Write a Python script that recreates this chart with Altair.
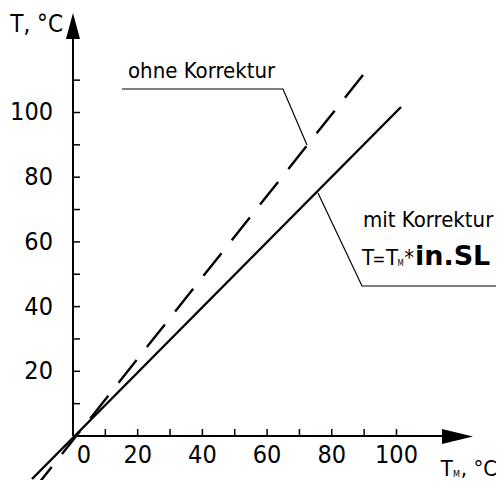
import altair as alt
import pandas as pd

# ---- data ----
solid_x = [-12.67, 101.4]
solid_y = [-13.29, 101.7]
dashed_x = [89.64, -11.75]
dashed_y = [111.59, -16.07]

x_tick_values = [10, 20, 30, 40, 50, 60, 70, 80, 90, 100]
y_tick_values = [10, 20, 30, 40, 50, 60, 70, 80, 90, 100, 110]
x_label_values = [20, 40, 60, 80, 100]
zero_label = ["0"]
y_label_values = [20, 40, 60, 80, 100]

ohne_leader_x = [15.15, 64.91, 72.33]
ohne_leader_y = [107.26, 107.26, 89.95]
mit_leader_x = [75.73, 89.34, 130.76]
mit_leader_y = [75.12, 46.37, 46.37]

XD = [-20.09, 130.76]
YD = [-13.60, 132.30]
FONT = "DejaVu Sans Condensed, DejaVu Sans, sans-serif"

xs = alt.Scale(domain=XD, nice=False, zero=False)
ys = alt.Scale(domain=YD, nice=False, zero=False)


def X(f="x"):
    return alt.X(f"{f}:Q", scale=xs, axis=None)


def Y(f="y"):
    return alt.Y(f"{f}:Q", scale=ys, axis=None)


def label(x, y, t, size, align="left", baseline="alphabetic", font=FONT, weight="normal"):
    return alt.Chart(pd.DataFrame({"x": [x], "y": [y], "t": [t]})).mark_text(
        font=font, fontSize=size, fontWeight=weight, align=align, baseline=baseline, color="black"
    ).encode(x=X(), y=Y(), text="t:N")


# main lines
solid = alt.Chart(pd.DataFrame({"x": solid_x, "y": solid_y, "o": [0, 1]})).mark_line(
    color="black", strokeWidth=2.4, clip=False
).encode(x=X(), y=Y(), order="o:Q")

dashed = alt.Chart(pd.DataFrame({"x": dashed_x, "y": dashed_y, "o": [0, 1]})).mark_line(
    color="black", strokeWidth=2.4, strokeDash=[29, 16.5], clip=False
).encode(x=X(), y=Y(), order="o:Q")

# axes lines
yaxis = alt.Chart(pd.DataFrame({"x": [0], "y": [0], "y2": [122.7]})).mark_rule(
    color="black", strokeWidth=2
).encode(x=X(), y=Y(), y2="y2:Q")
xaxis = alt.Chart(pd.DataFrame({"x": [0], "x2": [114.06], "y": [0]})).mark_rule(
    color="black", strokeWidth=2
).encode(x=X(), x2="x2:Q", y=Y())

# ticks
yt = alt.Chart(pd.DataFrame({"y": y_tick_values})).transform_calculate(
    x="0", x2="2.16"
).mark_rule(color="black", strokeWidth=1.5).encode(x=X(), x2="x2:Q", y=Y())
xt = alt.Chart(pd.DataFrame({"x": x_tick_values})).transform_calculate(
    y="0", y2="2.16"
).mark_rule(color="black", strokeWidth=1.5).encode(x=X(), y=Y(), y2="y2:Q")

# arrows
xarrow = alt.Chart(pd.DataFrame({"x": [118.86], "y": [-0.15]})).mark_point(
    shape="M -1 -0.48 L 1 0 L -1 0.48 Z", size=961, filled=True, color="black", opacity=1, strokeWidth=0
).encode(x=X(), y=Y())
yarrow = alt.Chart(pd.DataFrame({"x": [0], "y": [126.7]})).mark_point(
    shape="M -0.54 1 L 0 -1 L 0.54 1 Z", size=676, filled=True, color="black", opacity=1, strokeWidth=0
).encode(x=X(), y=Y())

# tick labels
xl = alt.Chart(pd.DataFrame({"x": x_label_values, "t": [str(v) for v in x_label_values]})).transform_calculate(
    y="-8.35"
).mark_text(font=FONT, fontSize=25, align="center", baseline="alphabetic", color="black").encode(
    x=X(), y=Y(), text="t:N"
)
x0l = label(3.4, -8.35, zero_label[0], 25, align="center")
yl = alt.Chart(pd.DataFrame({"y": y_label_values, "t": [str(v) for v in y_label_values]})).transform_calculate(
    x="-6.18"
).mark_text(font=FONT, fontSize=25, align="right", baseline="middle", color="black").encode(
    x=X(), y=Y(), text="t:N"
)

# axis titles
ytitle = label(-3.09, 124.9, "T, °C", 24, align="right")
xtitle_T = label(113.7, -12.4, "T", 22)
xtitle_M = label(117.5, -12.7, "M", 9)
xtitle_C = label(119.9, -12.4, ", °C", 22)

# annotations
ohne_txt = label(17.0, 110.7, "ohne Korrektur", 22)
ohne_lead = alt.Chart(pd.DataFrame({"x": ohne_leader_x, "y": ohne_leader_y, "o": [0, 1, 2]})).mark_line(
    color="black", strokeWidth=1.2
).encode(x=X(), y=Y(), order="o:Q")

mit_txt = label(89.64, 64.6, "mit Korrektur", 22)
mit_lead = alt.Chart(pd.DataFrame({"x": mit_leader_x, "y": mit_leader_y, "o": [0, 1, 2]})).mark_line(
    color="black", strokeWidth=1.2, clip=False
).encode(x=X(), y=Y(), order="o:Q")

f_T1 = label(89.34, 52.86, "T", 22)
f_eq = label(94.6, 52.86, "=", 17, align="center")
f_T2 = label(96.75, 52.86, "T", 22)
f_M = label(100.3, 52.55, "M", 8)
f_star = label(102.4, 52.86, "*", 22)
f_SL = label(105.7, 52.86, "in.SL", 27, font="DejaVu Sans, sans-serif", weight="bold")

chart = alt.layer(
    solid, dashed, yaxis, xaxis, yt, xt, xarrow, yarrow, xl, x0l, yl,
    ytitle, xtitle_T, xtitle_M, xtitle_C,
    ohne_txt, ohne_lead, mit_txt, mit_lead, f_T1, f_eq, f_T2, f_M, f_star, f_SL,
).properties(
    width=488, height=472, padding=0, autosize=alt.AutoSizeParams(type="none"), background="white"
).configure_view(stroke=None)

chart.save("out.html", embed_options={"renderer": "svg", "actions": False})
